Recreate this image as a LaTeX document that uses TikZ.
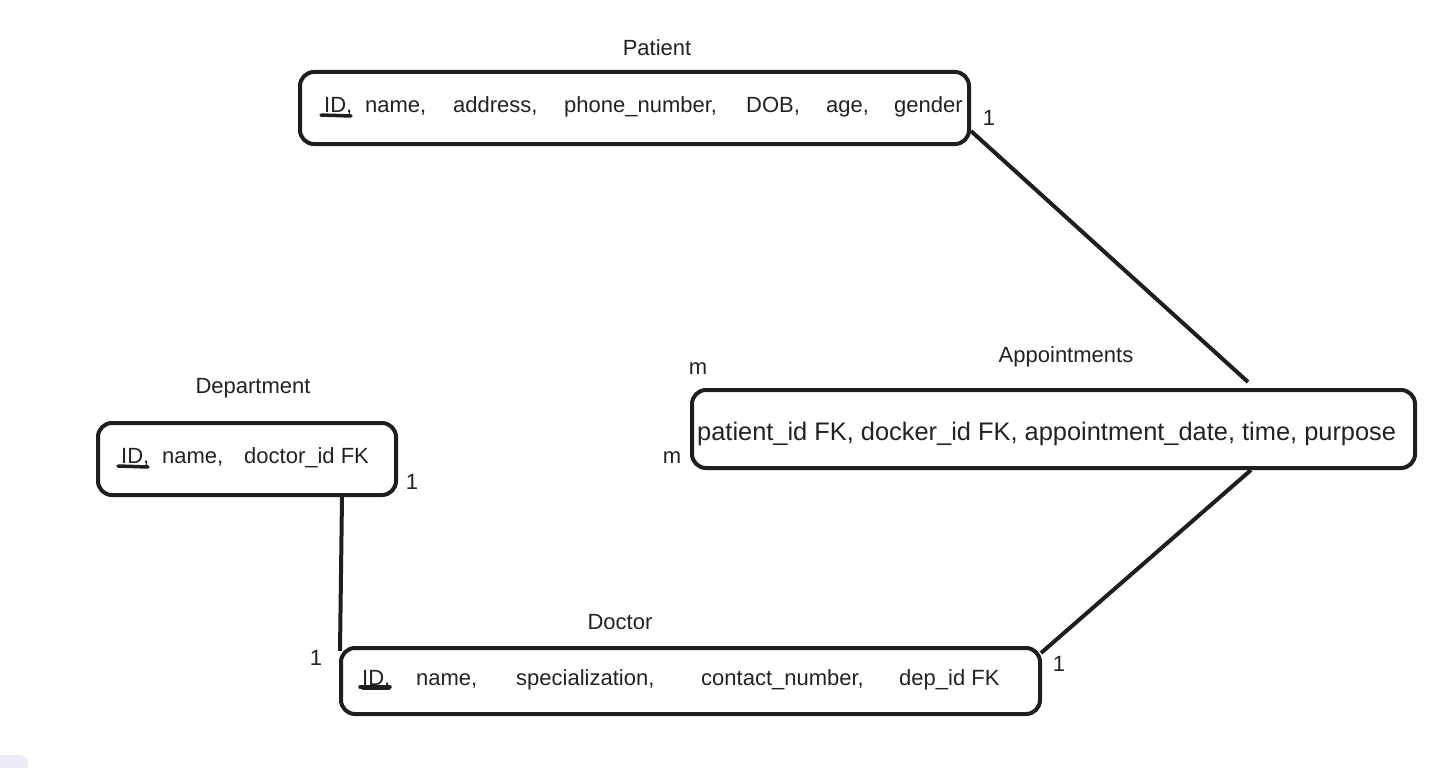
\documentclass[tikz,border=0pt]{standalone}
\usepackage{fontspec}
\setmainfont{Liberation Sans}
\usetikzlibrary{calc}
\definecolor{ink}{HTML}{1E1E1E}
\definecolor{txt}{HTML}{222222}
\definecolor{ghost}{HTML}{EBEBF5}
\begin{document}
\begin{tikzpicture}[x=1pt,y=-1pt,
  box/.style={draw=ink, line width=4pt, rounded corners=14pt, inner sep=0pt, outer sep=0pt},
  word/.style={anchor=base west, inner sep=0pt, text=txt, font=\fontsize{22}{26}\selectfont},
  bigword/.style={anchor=base west, inner sep=0pt, text=txt, font=\fontsize{25.4}{30}\selectfont},
  title/.style={anchor=base, inner sep=0pt, text=txt, font=\fontsize{22}{26}\selectfont},
  card/.style={anchor=base, inner sep=0pt, text=txt, font=\fontsize{22}{26}\selectfont},
  link/.style={draw=ink, line width=4pt},
  idstroke/.style={draw=ink, line width=3.5pt, line cap=round}]
\path[use as bounding box] (0,0) rectangle (1451,768);
\begin{scope}
\clip (0,0) rectangle (1451,768);
\fill[ghost, rounded corners=9pt] (-20,755) rectangle (28,800);
\end{scope}

% boxes
\node[box, minimum width=669pt, minimum height=72pt] (patient) at (634.5,108) {};
\node[box, minimum width=298pt, minimum height=72pt] (dept) at (247,459) {};
\node[box, minimum width=699pt, minimum height=66pt] (doctor) at (690.5,681) {};
\node[box, minimum width=723pt, minimum height=78pt] (appt) at (1053.5,429) {};

% titles
\node[title] (tpatient) at (657,56) {Patient};
\node[title] (tdept) at (253,393) {Department};
\node[title] (tdoctor) at (620,629) {Doctor};
\node[title] (tappt) at (1066,362) {Appointments};

% patient attributes
\node[word] (p1) at (324,112) {\underline{ID,}};
\node[word] (p2) at (365,112) {name,};
\node[word] (p3) at (453,112) {address,};
\node[word] (p4) at (564,112) {phone\_number,};
\node[word] (p5) at (746,112) {DOB,};
\node[word] (p6) at (826,112) {age,};
\node[word] (p7) at (894,112) {gender};
\draw[idstroke] (321,115) -- (351,116);

% department attributes
\node[word] (d1) at (121,463) {\underline{ID,}};
\node[word] (d2) at (162,463) {name,};
\node[word] (d3) at (244,463) {doctor\_id FK};
\draw[idstroke] (118,466) -- (148,467);

% doctor attributes
\node[word] (c1) at (362,685) {\underline{ID,}};
\node[word] (c2) at (416,685) {name,};
\node[word] (c3) at (516,685) {specialization,};
\node[word] (c4) at (701,685) {contact\_number,};
\node[word] (c5) at (899,685) {dep\_id FK};
\draw[idstroke] (360,687) -- (390,687);

% appointments attributes
\node[bigword] (a1) at (697,440) {patient\_id FK, docker\_id FK, appointment\_date, time, purpose};

% connectors
\draw[link] ($(patient.south east)+(2,-13)$) -- ($(appt.north west)+(556,-8)$);
\draw[link] ($(appt.south west)+(559,2)$) -- ($(doctor.north east)+(1,5)$);
\draw[link] ($(dept.south west)+(244,2)$) -- ($(doctor.north west)+(-1,3)$);

% cardinalities
\node[card] (k1) at (989,125) {1};
\node[card] (k2) at (698,374) {m};
\node[card] (k3) at (672,463) {m};
\node[card] (k4) at (412,489) {1};
\node[card] (k5) at (316,665) {1};
\node[card] (k6) at (1059,671) {1};
\end{tikzpicture}
\end{document}
